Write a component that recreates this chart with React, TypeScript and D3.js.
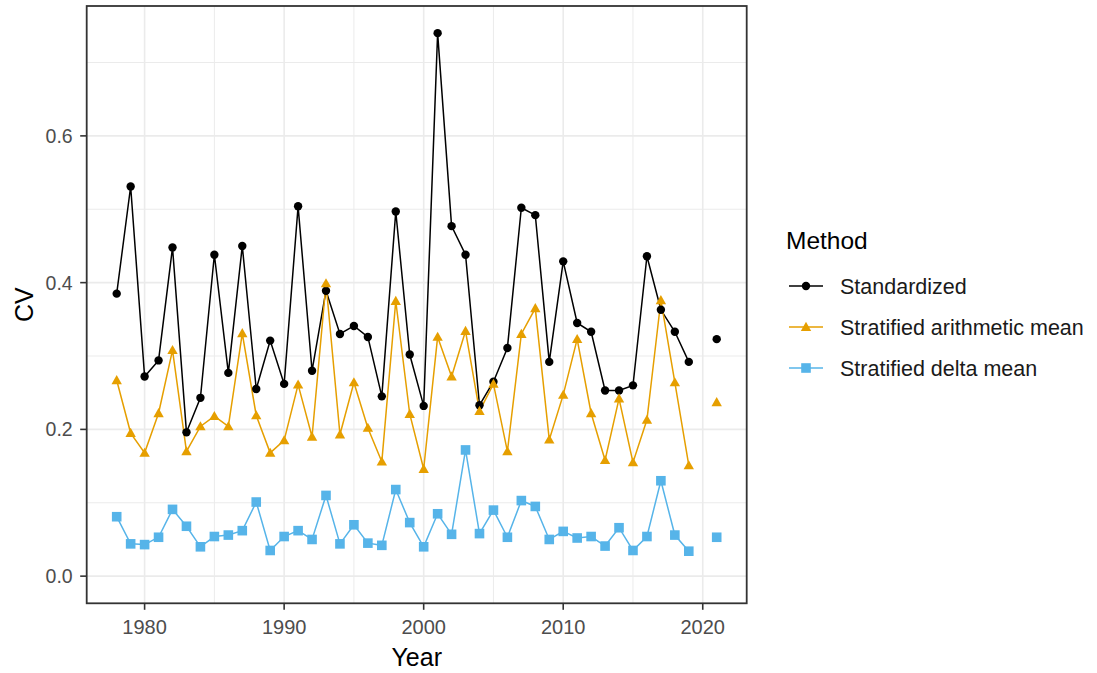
import React from "react";
import * as d3 from "d3";

const years = [1978,1979,1980,1981,1982,1983,1984,1985,1986,1987,1988,1989,1990,1991,1992,1993,1994,1995,1996,1997,1998,1999,2000,2001,2002,2003,2004,2005,2006,2007,2008,2009,2010,2011,2012,2013,2014,2015,2016,2017,2018,2019,2020,2021];

const standardized = [0.385,0.531,0.272,0.294,0.448,0.196,0.243,0.438,0.277,0.450,0.255,0.321,0.262,0.504,0.280,0.389,0.330,0.341,0.326,0.245,0.497,0.302,0.232,0.740,0.477,0.438,0.233,0.265,0.311,0.502,0.492,0.292,0.429,0.345,0.333,0.253,0.253,0.260,0.436,0.363,0.333,0.292,null,0.323];

const arithmetic = [0.267,0.195,0.168,0.222,0.308,0.170,0.204,0.218,0.204,0.331,0.219,0.168,0.185,0.261,0.190,0.399,0.193,0.264,0.202,0.156,0.375,0.221,0.146,0.326,0.272,0.334,0.225,0.262,0.170,0.330,0.365,0.186,0.247,0.323,0.222,0.158,0.242,0.155,0.213,0.376,0.264,0.151,null,0.237];

const delta = [0.081,0.044,0.043,0.053,0.091,0.068,0.040,0.054,0.056,0.062,0.101,0.035,0.054,0.062,0.050,0.110,0.044,0.070,0.045,0.042,0.118,0.073,0.040,0.085,0.057,0.172,0.058,0.090,0.053,0.103,0.095,0.050,0.061,0.052,0.054,0.041,0.066,0.035,0.054,0.130,0.056,0.034,null,0.053];

const methods = ["Standardized", "Stratified arithmetic mean", "Stratified delta mean"];
const colors = ["#000000", "#E69F00", "#56B4E9"];
const shapes = ["circle", "triangle", "square"];
const xTicks = [1980, 1990, 2000, 2010, 2020];
const xMinor = [1985, 1995, 2005, 2015];
const yTicks = [0.0, 0.2, 0.4, 0.6];
const yMinor = [0.1, 0.3, 0.5, 0.7];

const font = "'Liberation Sans', Arial, sans-serif";

function Marker({ shape, x, y, color }: { shape: string; x: number; y: number; color: string }) {
  if (shape === "circle") return <circle cx={x} cy={y} r={4.2} fill={color} />;
  if (shape === "triangle") {
    const s = 5.2;
    return <path d={`M${x},${y - s}L${x + s},${y + s * 0.75}L${x - s},${y + s * 0.75}Z`} fill={color} />;
  }
  const h = 4.8;
  return <rect x={x - h} y={y - h} width={2 * h} height={2 * h} fill={color} />;
}

export default function App() {
  const W = 1097, H = 673;
  const left = 86.7, right = 746.7, top = 6, bottom = 603.3;
  const ymaxData = 0.74, yminData = 0;
  const yr = ymaxData - yminData;
  const x = d3.scaleLinear().domain([1978 - 43 * 0.05, 2021 + 43 * 0.05]).range([left, right]);
  const y = d3.scaleLinear().domain([yminData - yr * 0.05, ymaxData + yr * 0.05]).range([bottom, top]);
  const series = [standardized, arithmetic, delta];

  const line = d3.line<[number, number | null]>()
    .defined((d) => d[1] !== null)
    .x((d) => x(d[0]))
    .y((d) => y(d[1] as number));

  const legX = 786;
  const legItems = [286, 327, 368];

  return (
    <svg width={W} height={H} style={{ position: "absolute", left: 0, top: 0, background: "#fff" }} fontFamily={font}>
      <rect x={0} y={0} width={W} height={H} fill="#fff" />
      <g>
        {yMinor.map((v) => (
          <line key={"ym" + v} x1={left} x2={right} y1={y(v)} y2={y(v)} stroke="#ebebeb" strokeWidth={1} />
        ))}
        {xMinor.map((v) => (
          <line key={"xm" + v} x1={x(v)} x2={x(v)} y1={top} y2={bottom} stroke="#ebebeb" strokeWidth={1} />
        ))}
        {yTicks.map((v) => (
          <line key={"yM" + v} x1={left} x2={right} y1={y(v)} y2={y(v)} stroke="#ebebeb" strokeWidth={1.6} />
        ))}
        {xTicks.map((v) => (
          <line key={"xM" + v} x1={x(v)} x2={x(v)} y1={top} y2={bottom} stroke="#ebebeb" strokeWidth={1.6} />
        ))}
      </g>
      {series.map((s, i) => (
        <path
          key={"l" + i}
          d={line(years.map((yy, j) => [yy, s[j]] as [number, number | null])) || ""}
          fill="none"
          stroke={colors[i]}
          strokeWidth={1.5}
        />
      ))}
      {series.map((s, i) =>
        years.map((yy, j) =>
          s[j] === null ? null : (
            <Marker key={`m${i}-${j}`} shape={shapes[i]} x={x(yy)} y={y(s[j] as number)} color={colors[i]} />
          )
        )
      )}
      <rect x={left} y={top} width={right - left} height={bottom - top} fill="none" stroke="#333333" strokeWidth={1.8} />
      {yTicks.map((v) => (
        <g key={"yt" + v}>
          <line x1={left - 6.5} x2={left} y1={y(v)} y2={y(v)} stroke="#333333" strokeWidth={1.6} />
          <text x={left - 14} y={y(v)} dy="0.36em" textAnchor="end" fontSize={19.5} fill="#4d4d4d">
            {v.toFixed(1)}
          </text>
        </g>
      ))}
      {xTicks.map((v) => (
        <g key={"xt" + v}>
          <line x1={x(v)} x2={x(v)} y1={bottom} y2={bottom + 6.5} stroke="#333333" strokeWidth={1.6} />
          <text x={x(v)} y={bottom + 31} textAnchor="middle" fontSize={20} fill="#4d4d4d">
            {v}
          </text>
        </g>
      ))}
      <text x={(left + right) / 2} y={666} textAnchor="middle" fontSize={25} fill="#000">
        Year
      </text>
      <text transform={`translate(33,${(top + bottom) / 2}) rotate(-90)`} textAnchor="middle" fontSize={25} fill="#000">
        CV
      </text>
      <text x={legX} y={249} fontSize={24.5} fill="#000">
        Method
      </text>
      {methods.map((m, i) => (
        <g key={"lg" + i}>
          <line x1={legX + 3} x2={legX + 37} y1={legItems[i]} y2={legItems[i]} stroke={colors[i]} strokeWidth={1.5} />
          <Marker shape={shapes[i]} x={legX + 20} y={legItems[i]} color={colors[i]} />
          <text x={legX + 54} y={legItems[i]} dy="0.36em" fontSize={21.5} fill="#1a1a1a">
            {m}
          </text>
        </g>
      ))}
    </svg>
  );
}
